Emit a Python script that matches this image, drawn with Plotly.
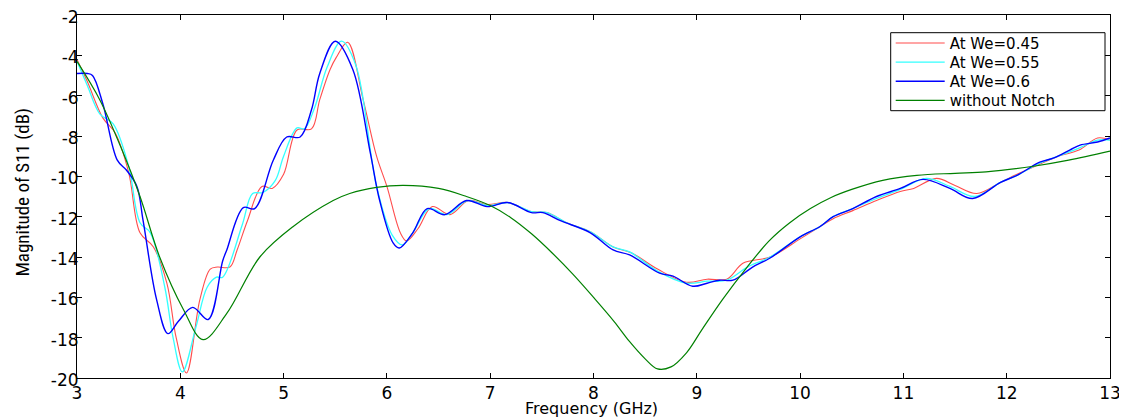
import plotly.graph_objects as go

# ---- data ----
x_045 = [3.0, 3.1, 3.25, 3.37, 3.5, 3.61, 3.74, 3.87, 3.96, 4.06, 4.19, 4.29, 4.36, 4.48, 4.55, 4.65,
         4.79, 4.89, 5.0, 5.13, 5.27, 5.35, 5.45, 5.51, 5.62, 5.77, 5.9, 6.0, 6.13, 6.19, 6.3, 6.44,
         6.61, 6.79, 6.97, 7.17, 7.4, 7.55, 7.74, 7.97, 8.19, 8.37, 8.62, 8.9, 9.1, 9.29, 9.45, 9.71,
         10.0, 10.19, 10.32, 10.51, 10.74, 10.97, 11.1, 11.32, 11.5, 11.71, 11.94, 12.1, 12.32, 12.5,
         12.7, 12.88, 13.0]
y_045 = [-4.2, -5.3, -7.1, -7.85, -9.8, -12.8, -13.5, -15.3, -18.0, -19.75, -16.1, -14.6, -14.5, -14.5,
         -13.65, -12.2, -10.5, -10.6, -9.9, -7.7, -7.65, -6.2, -4.7, -4.1, -3.35, -6.2, -9.0, -10.5,
         -12.8, -13.2, -12.6, -11.5, -11.9, -11.2, -11.4, -11.3, -11.75, -11.8, -12.3, -12.75, -13.5,
         -13.8, -14.6, -15.25, -15.1, -15.1, -14.3, -14.0, -13.1, -12.5, -12.1, -11.7, -11.2, -10.75,
         -10.6, -10.1, -10.45, -10.85, -10.3, -9.9, -9.4, -9.0, -8.7, -8.1, -8.2]

x_055 = [3.0, 3.1, 3.22, 3.35, 3.5, 3.61, 3.71, 3.85, 3.93, 4.02, 4.15, 4.26, 4.35, 4.41, 4.6, 4.7,
         4.8, 4.92, 5.0, 5.13, 5.2, 5.3, 5.42, 5.56, 5.7, 5.9, 6.05, 6.15, 6.25, 6.41, 6.58, 6.78,
         6.97, 7.17, 7.4, 7.55, 7.74, 7.97, 8.19, 8.35, 8.62, 8.9, 9.1, 9.29, 9.49, 9.71, 10.0, 10.19,
         10.32, 10.51, 10.74, 10.97, 11.22, 11.45, 11.69, 11.94, 12.1, 12.32, 12.5, 12.7, 12.88, 13.0]
y_055 = [-4.3, -5.5, -6.9, -7.4, -9.5, -12.3, -12.8, -15.5, -18.0, -19.7, -17.5, -15.5, -15.0, -15.0,
         -12.4, -10.85, -10.8, -10.2, -9.0, -7.6, -7.65, -6.6, -4.6, -3.3, -4.5, -10.5, -12.9, -13.4,
         -12.8, -11.6, -11.9, -11.2, -11.45, -11.3, -11.75, -11.8, -12.3, -12.75, -13.5, -13.75,
         -14.7, -15.3, -15.2, -15.15, -14.5, -14.0, -13.0, -12.5, -12.0, -11.6, -11.1, -10.65, -10.1,
         -10.5, -11.0, -10.3, -9.95, -9.35, -9.0, -8.6, -8.2, -8.2]

x_06 = [3.0, 3.1, 3.15, 3.25, 3.39, 3.48, 3.58, 3.64, 3.77, 3.88, 3.98, 4.12, 4.27, 4.41, 4.45, 4.61,
        4.72, 4.9, 5.03, 5.16, 5.27, 5.35, 5.5, 5.67, 5.84, 5.93, 6.06, 6.12, 6.25, 6.39, 6.56, 6.77,
        6.97, 7.17, 7.4, 7.51, 7.68, 7.97, 8.19, 8.35, 8.64, 8.77, 8.96, 9.1, 9.22, 9.35, 9.54, 9.71,
        10.0, 10.19, 10.32, 10.51, 10.74, 10.97, 11.19, 11.45, 11.67, 11.94, 12.1, 12.32, 12.45,
        12.61, 12.71, 12.88, 13.0]
y_06 = [-4.9, -4.9, -5.0, -6.4, -9.2, -9.7, -10.5, -12.2, -16.1, -17.8, -17.2, -16.5, -17.1, -14.2,
        -13.65, -11.55, -11.6, -9.2, -8.05, -8.05, -6.7, -4.9, -3.3, -4.7, -8.85, -11.2, -13.3,
        -13.55, -12.8, -11.6, -11.9, -11.2, -11.5, -11.3, -11.8, -11.8, -12.2, -12.8, -13.65, -13.9,
        -14.8, -14.95, -15.45, -15.3, -15.15, -15.15, -14.5, -14.05, -13.0, -12.5, -12.0, -11.6,
        -11.0, -10.6, -10.15, -10.6, -11.1, -10.3, -9.95, -9.3, -9.1, -8.7, -8.45, -8.3, -8.1]

x_none = [3.0, 3.22, 3.42, 3.61, 3.8, 4.03, 4.22, 4.45, 4.77, 5.09, 5.48, 5.64, 5.9, 6.16, 6.5, 6.77,
          7.0, 7.2, 7.4, 7.6, 7.8, 8.0, 8.2, 8.35, 8.5, 8.62, 8.75, 8.9, 9.05, 9.25, 9.48, 9.7, 9.9,
          10.1, 10.3, 10.5, 10.8, 11.13, 11.5, 11.8, 12.26, 12.6, 13.0]
y_none = [-4.3, -6.2, -8.5, -11.0, -14.0, -16.6, -18.1, -16.8, -14.0, -12.5, -11.2, -10.85, -10.55,
          -10.45, -10.6, -11.0, -11.45, -12.05, -12.85, -13.8, -14.85, -16.0, -17.2, -18.2, -19.05,
          -19.55, -19.45, -18.75, -17.6, -16.1, -14.55, -13.2, -12.3, -11.6, -11.05, -10.65, -10.2,
          -9.95, -9.85, -9.78, -9.5, -9.2, -8.75]

series_names = ["At We=0.45", "At We=0.55", "At We=0.6", "without Notch"]
x_ticks = [3, 4, 5, 6, 7, 8, 9, 10, 11, 12, 13]
x_tick_labels = ["3", "4", "5", "6", "7", "8", "9", "10", "11", "12", "13"]
y_ticks = [-20, -18, -16, -14, -12, -10, -8, -6, -4, -2]
y_tick_labels = ["-20", "-18", "-16", "-14", "-12", "-10", "-8", "-6", "-4", "-2"]
x_title = "Frequency (GHz)"
y_title = "Magnitude of S11 (dB)"

colors = ["#ff4d4d", "#33ffff", "#0000ff", "#008000"]
widths = [1.1, 1.3, 1.4, 1.2]

# page body has an 8px margin, so the figure is 8px smaller than the window
W, H = 1119, 409
PLOT_L, PLOT_T, PLOT_R, PLOT_B = 69, 7, 1102, 370   # plot area in figure pixels

legend_ids = ["legend", "legend2", "legend3", "legend4"]

fig = go.Figure()
for xs, ys, name, c, w, lg in zip([x_045, x_055, x_06, x_none], [y_045, y_055, y_06, y_none],
                                  series_names, colors, widths, legend_ids):
    fig.add_trace(go.Scatter(x=xs, y=ys, mode="lines", name=name, legend=lg,
                             line=dict(color=c, width=w, shape="spline", smoothing=1.0)))

axis_common = dict(showline=True, linecolor="black", linewidth=1, mirror="ticks",
                   ticks="inside", ticklen=5, tickcolor="black", showgrid=False, zeroline=False,
                   automargin=False, ticklabeloverflow="allow",
                   tickfont=dict(family="DejaVu Sans", size=17, color="black"))

pw, ph = PLOT_R - PLOT_L, PLOT_B - PLOT_T


def px_x(p):  # figure pixel -> paper x
    return (p - PLOT_L) / pw


def px_y(p):  # figure pixel -> paper y
    return 1 - (p - PLOT_T) / ph


legend_style = dict(bgcolor="rgba(0,0,0,0)", borderwidth=0, itemwidth=49,
                    font=dict(family="DejaVu Sans", size=15, color="black"),
                    xanchor="left", yanchor="middle", tracegroupgap=0)
row_centers = [35.3, 54.4, 73.5, 92.6]
legends = {}
for lg, rc in zip(legend_ids, row_centers):
    legends[lg] = dict(x=px_x(882.7), y=px_y(rc), **legend_style)

fig.update_layout(
    width=W, height=H,
    margin=dict(l=PLOT_L, r=W - PLOT_R, t=PLOT_T, b=H - PLOT_B),
    paper_bgcolor="white", plot_bgcolor="white",
    showlegend=True,
    **legends,
    xaxis=dict(range=[3, 13], tickvals=x_ticks, ticktext=x_tick_labels, **axis_common),
    yaxis=dict(range=[-20, -2], tickvals=y_ticks, ticktext=y_tick_labels,
               ticklabelstandoff=-6, ticklabelshift=2, **axis_common),
    shapes=[dict(type="rect", xref="paper", yref="paper",
                 x0=px_x(882.7), x1=px_x(1097), y0=px_y(102.7), y1=px_y(24.7),
                 line=dict(color="black", width=1), fillcolor="white", layer="above")],
    annotations=[
        dict(text=x_title, xref="paper", yref="paper", x=px_x(583.5), y=px_y(400),
             xanchor="center", yanchor="middle", showarrow=False,
             font=dict(family="DejaVu Sans", size=16, color="black")),
        dict(text=y_title, xref="paper", yref="paper", x=px_x(14), y=px_y(184.5),
             xanchor="center", yanchor="middle", showarrow=False, textangle=-90,
             font=dict(family="Liberation Sans Narrow, Roboto Condensed, Roboto", size=19,
                       color="black")),
    ],
)

fig.write_html("out.html")
